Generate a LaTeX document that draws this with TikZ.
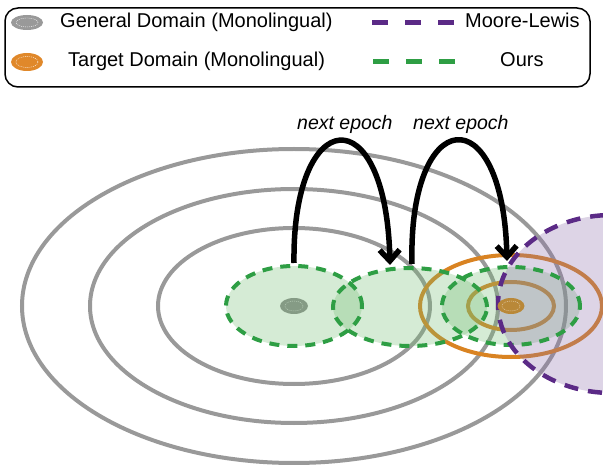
\documentclass[tikz,border=0pt]{standalone}
\usepackage{fontspec}
\setmainfont{Liberation Sans}
\usetikzlibrary{shapes.geometric,arrows.meta}
\definecolor{ggray}{HTML}{999999}
\definecolor{dotgray}{HTML}{8E8E8E}
\definecolor{gorange}{HTML}{D98322}
\definecolor{dotorange}{HTML}{B98838}
\definecolor{lorange}{HTML}{E0882A}
\definecolor{gpurple}{HTML}{5B2A86}
\definecolor{pfill}{HTML}{8E70AC}
\definecolor{ggreen}{HTML}{2E9E44}
\definecolor{gfill}{HTML}{73BC73}
\begin{document}
\begin{tikzpicture}[x=1pt,y=-1pt,
  grayring/.style={draw=ggray, line width=4pt},
  orangering/.style={draw=gorange, line width=4pt},
  greenfill/.style={ellipse, fill=gfill, fill opacity=0.3, inner sep=0pt, outer sep=0pt},
  greendash/.style={draw=ggreen, line width=4pt, dash pattern=on 10pt off 8pt},
  purpledash/.style={draw=gpurple, line width=4.5pt, dash pattern=on 14pt off 10pt},
  epocharrow/.style={line width=5.5pt, -{Straight Barb[length=11pt,width=20pt]}},
  lbl/.style={font=\fontsize{20}{24}\selectfont, anchor=base west, inner sep=0pt},
  eplbl/.style={font=\fontsize{19.5}{23}\selectfont\itshape, anchor=base west, inner sep=0pt},
  marker/.style={ellipse, inner sep=0pt, outer sep=0pt}
]
\useasboundingbox (0,0) rectangle (603,465);

% ---------- legend ----------
\draw[line width=1.5pt, rounded corners=13pt] (5,8) rectangle (590,87);
\node[marker, fill=ggray, minimum width=32pt, minimum height=15pt] (lg) at (27,22.5) {};
\draw[white, line width=0.4pt, dash pattern=on 1pt off 1pt] (lg.center) ellipse [x radius=11pt, y radius=4.5pt];
\node[marker, fill=lorange, minimum width=32pt, minimum height=18pt] (lo) at (27,62) {};
\draw[white, line width=0.4pt, dash pattern=on 1pt off 1pt] (lo.center) ellipse [x radius=11pt, y radius=5.5pt];
\node[lbl] (tg) at (60,28) {General Domain (Monolingual)};
\node[lbl] (tt) at (68,67) {Target Domain (Monolingual)};
\node[lbl] (tm) at (465,28) {Moore-Lewis};
\node[lbl] (to) at (500,67) {Ours};
\draw[gpurple, line width=5pt, dash pattern=on 16pt off 17pt] (372,22.5) -- (455,22.5);
\draw[ggreen, line width=5pt, dash pattern=on 16pt off 17pt] (373,62) -- (456,62);

% ---------- general domain rings ----------
\coordinate (gc) at (294,306);
\coordinate (oc) at (511,306);
\draw[grayring] (gc) ellipse [x radius=272pt, y radius=157pt];
\draw[grayring] (gc) ellipse [x radius=204pt, y radius=117pt];
\draw[grayring] (gc) ellipse [x radius=136pt, y radius=78pt];

% ---------- target domain rings ----------
\draw[orangering] (oc) ellipse [x radius=91pt, y radius=51pt];
\draw[orangering] (oc) ellipse [x radius=43pt, y radius=24pt];

% general centre dot
\node[marker, fill=dotgray, minimum width=28pt, minimum height=16pt] (gd) at (gc) {};
\draw[white!80!gray, line width=0.4pt, dash pattern=on 1pt off 1pt] (gd.center) ellipse [x radius=9pt, y radius=5pt];

% ---------- our selections (fills) ----------
\node[greenfill, minimum width=136pt, minimum height=80pt] (g1) at (294,306) {};
\node[greenfill, minimum width=154pt, minimum height=78pt] (g2) at (410,307) {};
\node[greenfill, minimum width=138pt, minimum height=78pt] (g3) at (511,306) {};

% ---------- Moore-Lewis fill ----------
\begin{scope}
\clip (0,0) rectangle (603,465);
\fill[pfill, fill opacity=0.3] (612,304) ellipse [x radius=114pt, y radius=89pt];
\end{scope}

% ---------- dashed borders ----------
\draw[greendash] (g1.center) ellipse [x radius=68pt, y radius=40pt];
\draw[greendash] (g2.center) ellipse [x radius=77pt, y radius=39pt];
\draw[greendash] (g3.center) ellipse [x radius=69pt, y radius=39pt];
\begin{scope}
\clip (0,0) rectangle (603,465);
\draw[purpledash] (612,304) ellipse [x radius=114pt, y radius=89pt];
\end{scope}

% target centre dot
\node[marker, fill=dotorange, minimum width=27pt, minimum height=16pt] (od) at (oc) {};
\draw[white!70!dotorange, line width=0.4pt, dash pattern=on 1pt off 1pt] (od.center) ellipse [x radius=9pt, y radius=5pt];

% ---------- epoch arrows ----------
\draw[epocharrow] ([yshift=3pt]g1.north) .. controls (292,105) and (386,95) .. ([xshift=-20pt,yshift=3pt]g2.north);
\draw[epocharrow] ([xshift=2pt,yshift=4pt]g2.north) .. controls (408,105) and (503,95) .. ([xshift=-4pt,yshift=6pt]g3.north);
\node[eplbl] (e1) at (297,130) {next epoch};
\node[eplbl] (e2) at (413,130) {next epoch};
\end{tikzpicture}
\end{document}
